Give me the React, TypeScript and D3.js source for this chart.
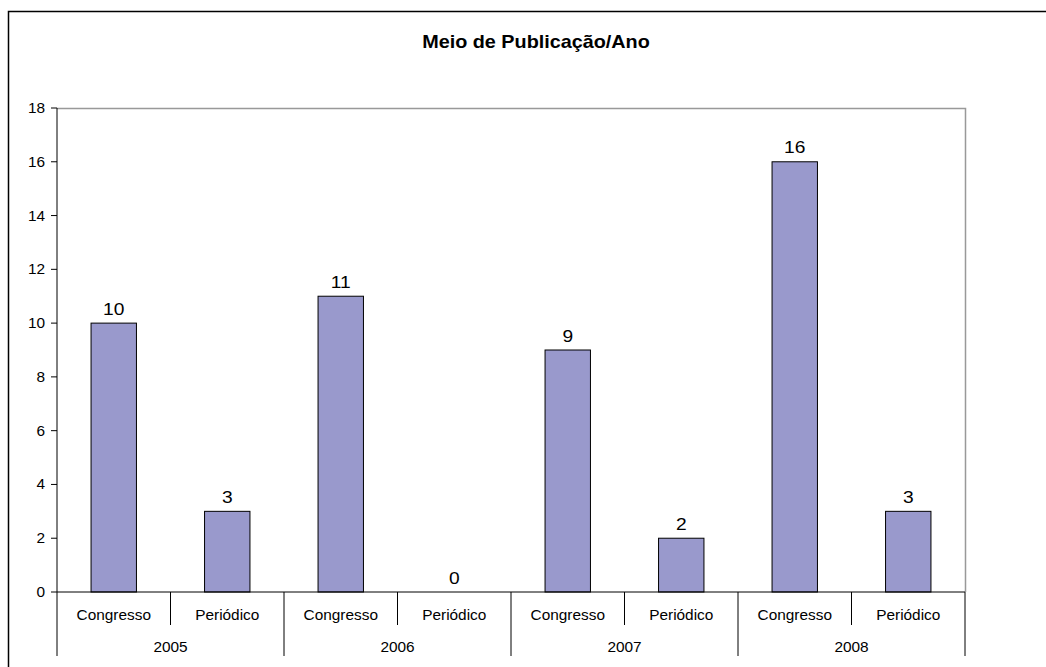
import React from "react";
import * as d3 from "d3";

const years = ["2005", "2006", "2007", "2008"];
const types = ["Congresso", "Periódico"];
const values = [10, 3, 11, 0, 9, 2, 16, 3];
const yTicks = [0, 2, 4, 6, 8, 10, 12, 14, 16, 18];
const title = "Meio de Publicação/Ano";

const W = 1046, H = 667;
const left = 57, right = 965, top = 108, bottom = 592;
const font = "Liberation Sans, Arial, sans-serif";

function T({ x, y, size, anchor = "middle", bold = false, sx = 1.1, children }: any) {
  return (
    <text
      transform={`translate(${x},${y}) scale(${sx},1)`}
      textAnchor={anchor}
      fontFamily={font}
      fontWeight={bold ? "bold" : "normal"}
      fontSize={size}
      fill="#000"
    >
      {children}
    </text>
  );
}

export default function App() {
  const cats = years.flatMap((y) => types.map((t) => `${y}|${t}`));
  const x = d3.scaleBand<string>().domain(cats).range([left, right]).paddingInner(0).paddingOuter(0);
  const y = d3.scaleLinear().domain([0, 18]).range([bottom, top]);
  const bw = x.bandwidth();
  const barW = bw * 0.4;
  const yearW = bw * types.length;
  return (
    <svg width={W} height={H} style={{ position: "absolute", left: 0, top: 0 }}>
      <rect x={0} y={0} width={W} height={H} fill="#fff" />
      <path d={`M8.5,${H + 5} V11.5 H${W + 5}`} fill="none" stroke="#000" strokeWidth={1.5} />
      <T x={536} y={47.5} size={18} bold>{title}</T>
      <path d={`M${left},${top + 0.5} H${right + 0.5} V${bottom}`} fill="none" stroke="#999" strokeWidth={1.5} />
      {yTicks.map((t) => (
        <g key={t}>
          <line x1={left - 6} x2={left} y1={y(t)} y2={y(t)} stroke="#000" />
          <T x={45} y={y(t) + 5} size={14} anchor="end">{t}</T>
        </g>
      ))}
      {values.map((v, i) => {
        const cx = (x(cats[i]) as number) + bw / 2;
        return (
          <g key={i}>
            {v > 0 && (
              <rect x={cx - barW / 2} y={y(v)} width={barW} height={bottom - y(v)} fill="#9999cc" stroke="#000" strokeWidth={1} />
            )}
            <T x={cx} y={y(v) - 8.5} size={16} sx={1.2}>{v}</T>
            <T x={cx} y={620} size={14}>{types[i % types.length]}</T>
          </g>
        );
      })}
      {cats.map((c, i) => {
        const xx = x(c) as number;
        if (i % types.length === 0) return null;
        return <line key={c} x1={xx} x2={xx} y1={bottom} y2={625} stroke="#000" />;
      })}
      {years.map((yr, j) => {
        const x0 = left + j * yearW;
        return (
          <g key={yr}>
            <line x1={x0} x2={x0} y1={bottom} y2={656} stroke="#000" />
            <T x={x0 + yearW / 2} y={651.5} size={14}>{yr}</T>
          </g>
        );
      })}
      <line x1={right} x2={right} y1={bottom} y2={656} stroke="#000" />
      <line x1={left} x2={right} y1={bottom} y2={bottom} stroke="#000" />
      <line x1={left} x2={left} y1={top} y2={bottom} stroke="#000" />
    </svg>
  );
}
